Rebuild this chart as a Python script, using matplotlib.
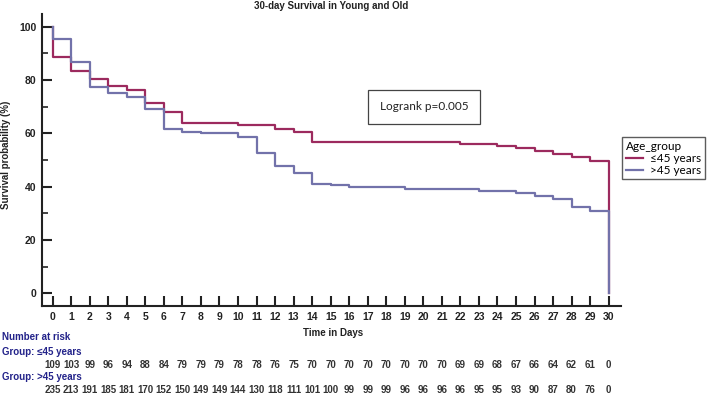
import numpy as np
import matplotlib
matplotlib.use("Agg")
import matplotlib.pyplot as plt
from matplotlib.transforms import blended_transform_factory
from matplotlib.ticker import MultipleLocator

plt.rcParams['font.family'] = ['Liberation Sans', 'DejaVu Sans']

# survival (%) held over each day interval [k, k+1), k = 0..29
days = list(range(31))
surv_young = [88.5, 83.5, 80.4, 77.8, 76.2, 71.5, 68.1, 64.0, 64.0, 64.0,
              63.1, 63.1, 61.6, 60.6, 56.6, 56.6, 56.6, 56.6, 56.6, 56.6,
              56.6, 56.6, 56.0, 56.0, 55.3, 54.5, 53.5, 52.3, 51.0, 49.5]
surv_old = [95.4, 86.6, 77.5, 75.0, 73.4, 69.0, 61.6, 60.6, 60.25, 60.25,
            58.4, 52.5, 47.75, 45.0, 40.9, 40.5, 40.0, 40.0, 40.0, 39.1,
            39.1, 39.1, 39.1, 38.5, 38.5, 37.6, 36.6, 35.2, 32.3, 30.8]

risk_young = [109, 103, 99, 96, 94, 88, 84, 79, 79, 79, 78, 78, 76, 75, 70, 70,
              70, 70, 70, 70, 70, 70, 69, 69, 68, 67, 66, 64, 62, 61, 0]
risk_old = [235, 213, 191, 185, 181, 170, 152, 150, 149, 149, 144, 130, 118, 111,
            101, 100, 99, 99, 99, 96, 96, 96, 96, 95, 95, 93, 90, 87, 80, 76, 0]

red = '#9c2a5e'
blue = '#7272aa'
navy = '#23238a'

fig = plt.figure(figsize=(7.09, 3.94), dpi=100)
ax = fig.add_axes([0.0592, 0.2234, 0.8163, 0.7411])

x = [0] + days
ax.step(x, [100] + surv_young + [0], where='post', color=red, lw=1.6, label='\u226445 years')
ax.step(x, [100] + surv_old + [0], where='post', color=blue, lw=1.6, label='>45 years')

ax.set_xlim(-0.577, 30.65)
ax.set_ylim(-4.76, 104.7)
ax.set_xticks(days)
ax.set_yticks([0, 20, 40, 60, 80, 100])
ax.yaxis.set_minor_locator(MultipleLocator(10))
for s in ['top', 'right']:
    ax.spines[s].set_visible(False)
for s in ['left', 'bottom']:
    ax.spines[s].set_linewidth(1.5)
    ax.spines[s].set_color('#222222')
ax.tick_params(axis='both', which='major', direction='in', length=7.5, width=1.5,
               color='#222222', labelsize=7.5, labelcolor='#222222')
ax.tick_params(axis='y', which='minor', direction='in', length=4, width=1.2, color='#222222')
ax.tick_params(axis='x', pad=4)
ax.tick_params(axis='y', pad=4)
for lab in ax.get_xticklabels() + ax.get_yticklabels():
    lab.set_fontweight('bold')

fig.text(0.467, 0.985, '30-day Survival in Young and Old', ha='center', va='center',
         fontsize=7, fontweight='bold', color='#222222')
fig.text(6 / 709, 1 - 155 / 394, 'Survival probability (%)', rotation=90, ha='center',
         va='center', fontsize=7, fontweight='bold', color='#222222')
fig.text(333 / 709, 1 - 333 / 394, 'Time in Days', ha='center', va='center',
         fontsize=7, fontweight='bold', color='#222222')

fig.text(424 / 709, 1 - 107 / 394, 'Logrank p=0.005', ha='center', va='center',
         fontsize=8.5, family=['Lato', 'DejaVu Sans'], color='#222222',
         bbox=dict(boxstyle='square,pad=1.0', fc='white', ec='#444444', lw=0.9))

leg = fig.legend(loc='upper left', bbox_to_anchor=(622 / 709, 1 - 137 / 394),
                 title='Age_group', fancybox=False, edgecolor='#333333',
                 prop={'family': ['Lato', 'DejaVu Sans'], 'size': 8.5},
                 title_fontproperties={'family': ['Lato', 'DejaVu Sans'], 'size': 8.5},
                 handlelength=1.5, handletextpad=0.6, labelspacing=0.1,
                 borderpad=0.3, borderaxespad=0, alignment='left')
leg.get_frame().set_linewidth(1.0)

# number at risk table
tr = blended_transform_factory(ax.transData, fig.transFigure)
fig.text(2 / 709, 1 - 337 / 394, 'Number at risk', ha='left', va='center',
         fontsize=7, fontweight='bold', color=navy)
fig.text(2 / 709, 1 - 352 / 394, 'Group: \u226445 years', ha='left', va='center',
         fontsize=7, fontweight='bold', color=navy)
fig.text(2 / 709, 1 - 377 / 394, 'Group: >45 years', ha='left', va='center',
         fontsize=7, fontweight='bold', color=navy)
for d, n in zip(days, risk_young):
    ax.text(d, 1 - 365 / 394, str(n), transform=tr, ha='center', va='center',
            fontsize=7, fontweight='bold', color='#333333')
for d, n in zip(days, risk_old):
    ax.text(d, 1 - 390 / 394, str(n), transform=tr, ha='center', va='center',
            fontsize=7, fontweight='bold', color='#333333')

fig.savefig('out.png', dpi=100)
